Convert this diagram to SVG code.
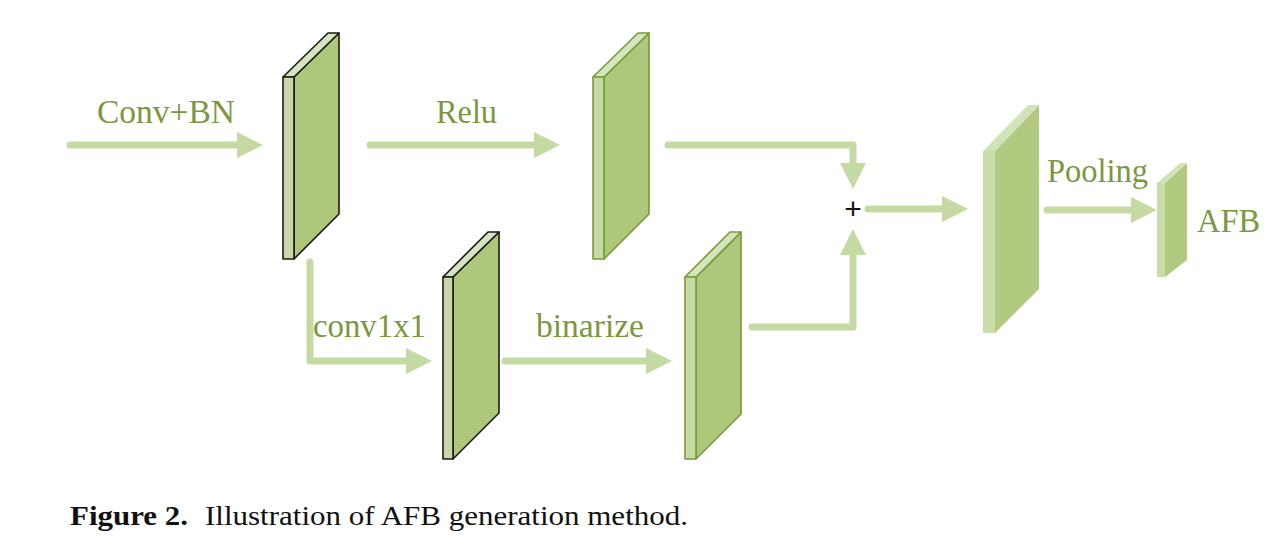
<svg xmlns="http://www.w3.org/2000/svg" width="1284" height="546" viewBox="0 0 1284 546">
<style>
.side{fill:#afc77b}
.strip{fill:#c6d9a4}
.top{fill:#d6e5bf}
.dark polygon,.dark rect{stroke:#1a1a1a;stroke-width:1.6;stroke-linejoin:round}
.green polygon,.green rect{stroke:#7a9a3a;stroke-width:1.6;stroke-linejoin:round}
.light .side{fill:#b2ca80}
.light .strip{fill:#c9dcaa}
.light .top{fill:#d3e3b9}
.conn path{fill:none;stroke:#c5d9a2;stroke-width:7;stroke-linecap:round;stroke-linejoin:round;marker-end:url(#ah)}
.lbl{font-family:"Liberation Serif","Times New Roman",serif;font-size:33px;fill:#7d9640}
.cap{font-family:"Liberation Serif","Times New Roman",serif;font-size:28px;fill:#111}
.plus{font-family:"Liberation Sans",Arial,sans-serif;font-size:30px;fill:#111}
</style>
<defs>
<marker id="ah" viewBox="0 0 26 26" refX="4" refY="13" markerWidth="26" markerHeight="26" markerUnits="userSpaceOnUse" orient="auto">
<path d="M0,0 L26,13 L0,26 z" fill="#c5d9a2"/>
</marker>
</defs>
<rect width="1284" height="546" fill="#fff"/>
<g id="connectors" class="conn">
<path d="M70,145 H241"/>
<path d="M370,145 H538"/>
<path d="M668,145 H853 V167"/>
<path d="M752,327 H853 V251"/>
<path d="M868,209 H946"/>
<path d="M1047,210 H1135"/>
<path d="M310,262 V361 H410"/>
<path d="M505,361 H650"/>
</g>
<g id="box1" class="dark">
<polygon class="side" points="294,77 339,33 339,214 294,259"/>
<polygon class="top" points="283,77 294,77 339,33 328,33"/>
<rect class="strip" x="283" y="77" width="11" height="182"/>
</g>
<g id="box2" class="green">
<polygon class="side" points="604,77 649,33 649,214 604,259"/>
<polygon class="top" points="593,77 604,77 649,33 638,33"/>
<rect class="strip" x="593" y="77" width="11" height="182"/>
</g>
<g id="box3" class="dark">
<polygon class="side" points="453,277 499,232 499,413 453,459"/>
<polygon class="top" points="443,277 453,277 499,232 488,232"/>
<rect class="strip" x="443" y="277" width="10" height="182"/>
</g>
<g id="box4" class="green">
<polygon class="side" points="696,277 741,232 741,414 696,459"/>
<polygon class="top" points="685,277 696,277 741,232 730,232"/>
<rect class="strip" x="685" y="277" width="11" height="182"/>
</g>
<g id="box5" class="light">
<polygon class="side" points="995,151 1039,105 1039,289 995,333"/>
<polygon class="top" points="983,151 995,151 1039,105 1028,105"/>
<rect class="strip" x="983" y="151" width="12" height="182"/>
</g>
<g id="box6" class="light">
<polygon class="side" points="1165,183 1187,163 1187,260 1165,277"/>
<polygon class="top" points="1157,183 1165,183 1187,163 1180,163"/>
<rect class="strip" x="1157" y="183" width="8" height="94"/>
</g>
<g id="plus">
<text class="plus" x="853" y="219" text-anchor="middle">+</text>
</g>
<g id="labels">
<text class="lbl" x="97" y="123" textLength="138" lengthAdjust="spacingAndGlyphs">Conv+BN</text>
<text class="lbl" x="436" y="123" textLength="61" lengthAdjust="spacingAndGlyphs">Relu</text>
<text class="lbl" x="313" y="337" textLength="113" lengthAdjust="spacingAndGlyphs">conv1x1</text>
<text class="lbl" x="536" y="337" textLength="108" lengthAdjust="spacingAndGlyphs">binarize</text>
<text class="lbl" x="1047" y="182" textLength="101" lengthAdjust="spacingAndGlyphs">Pooling</text>
<text class="lbl" x="1197" y="232" textLength="63" lengthAdjust="spacingAndGlyphs">AFB</text>
</g>
<g id="caption">
<text class="cap" x="70" y="525" font-weight="bold" textLength="118" lengthAdjust="spacingAndGlyphs">Figure 2.</text>
<text class="cap" x="205" y="525" textLength="483" lengthAdjust="spacingAndGlyphs">Illustration of AFB generation method.</text>
</g>
</svg>
